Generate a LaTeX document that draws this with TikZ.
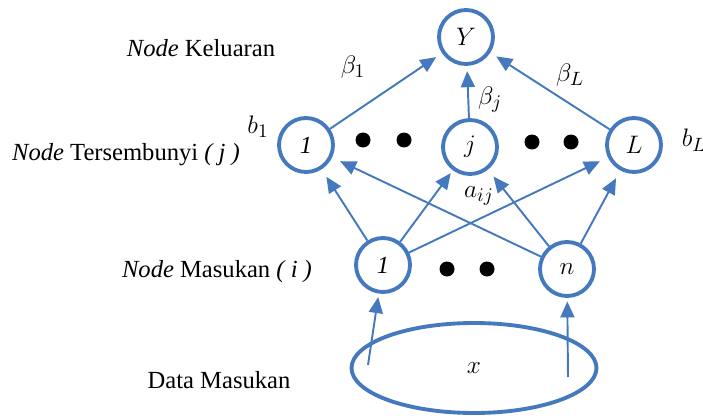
\documentclass[tikz,border=0pt]{standalone}
\usepackage{fontspec}
\setmainfont{Liberation Serif}
\usepackage{tikz}
\usetikzlibrary{shapes.geometric, arrows.meta, positioning, calc}

\definecolor{netblue}{RGB}{68,121,189}

\begin{document}
\begin{tikzpicture}[
        x=0.02cm, y=-0.02cm,
        neuron/.style={draw=netblue, circle, line width=2.2pt, minimum size=1.08cm, inner sep=0pt, font=\fontsize{14}{16}\selectfont\itshape},
        weight/.style={draw=netblue, line width=1.1pt, -{Triangle[length=3.2mm, width=2.8mm]}, shorten >=2pt},
        layer/.style={font=\fontsize{14}{16}\selectfont},
        dot/.style={circle, fill=black, minimum size=0.3cm, inner sep=0pt},
        lbl/.style={font=\fontsize{15.5}{17}\selectfont}
    ]

    \useasboundingbox (0,0) rectangle (703,419);

    % Output node
    \node[neuron] (out) at (466,37) {$Y$};

    % Hidden nodes
    \node[neuron] (h1) at (306,145) {1};
    \node[neuron] (hj) at (470,147) {$j$};
    \node[neuron] (hL) at (634,145) {$L$};
    \node[dot] (d1) at (363,140) {};
    \node[dot] (d2) at (404,140) {};
    \node[dot] (d3) at (532,142) {};
    \node[dot] (d4) at (571,142) {};

    % Input nodes
    \node[neuron] (in1) at (383,265) {1};
    \node[neuron] (inn) at (567,269) {$n$};
    \node[dot] (d5) at (447,269) {};
    \node[dot] (d6) at (487,269) {};

    % Input data
    \node[draw=netblue, ellipse, line width=2.2pt, minimum width=4.9cm, minimum height=1.8cm, font=\fontsize{15.5}{17}\selectfont] (data) at (474,368) {$x$};
    \coordinate (x1) at (368,365);
    \coordinate (xn) at (568,377);

    % Layer labels
    \node[layer] (lout) at (201,48) {\textit{Node} Keluaran};
    \node[layer] (lhid) at (126,155) {\textit{Node} Tersembunyi \textit{( j )}};
    \node[layer] (lin) at (217,272) {\textit{Node} Masukan \textit{( i )}};
    \node[layer] (ldat) at (219,380) {Data Masukan};

    % Connections
    \draw[weight] (x1) -- (in1);
    \draw[weight] (xn) -- (inn);
    \draw[weight, shorten >=5pt] (in1) -- (h1);
    \draw[weight] (in1) -- (hj);
    \draw[weight, shorten >=5pt] (in1) -- (hL);
    \draw[weight, shorten >=5pt] (inn) -- (h1);
    \draw[weight, shorten >=5pt] (inn) -- (hj);
    \draw[weight, shorten >=5pt] (inn) -- (hL);
    \draw[weight, shorten >=4pt] (h1) -- (out);
    \draw[weight, shorten >=3pt] (hj) -- (out);
    \draw[weight, shorten >=4pt] (hL) -- (out);

    % Weights and biases
    \node[lbl] (b1) at (258,127) {$b_1$};
    \node[lbl] (bL) at (694,140) {$b_L$};
    \node[lbl] (beta1) at (353,67) {$\beta_1$};
    \node[lbl] (betaj) at (490,100) {$\beta_j$};
    \node[lbl] (betaL) at (570,75) {$\beta_L$};
    \node[lbl] (aij) at (479,196) {$a_{ij}$};

\end{tikzpicture}
\end{document}
